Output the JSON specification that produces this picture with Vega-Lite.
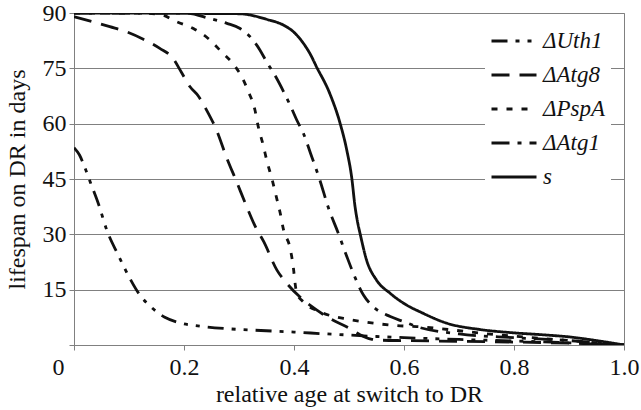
{
  "$schema": "https://vega.github.io/schema/vega-lite/v6.json",
  "width": 550,
  "height": 332,
  "autosize": {"type": "none"},
  "padding": {"left": 74, "top": 13, "right": 17, "bottom": 65},
  "background": "white",
  "config": {
    "font": "Liberation Serif",
    "style": {"guide-label": {"font": "Liberation Serif"}, "guide-title": {"font": "Liberation Serif"}},
    "view": {"stroke": "#808080", "strokeWidth": 1}
  },
  "datasets": {
    "curves": [
      {"g": "ΔUth1", "x": 0, "y": 53.5}, {"g": "ΔUth1", "x": 0.01, "y": 51.5}, {"g": "ΔUth1", "x": 0.02, "y": 48}, {"g": "ΔUth1", "x": 0.03, "y": 44}, {"g": "ΔUth1", "x": 0.045, "y": 38}, {"g": "ΔUth1", "x": 0.06, "y": 31}, {"g": "ΔUth1", "x": 0.08, "y": 24.5}, {"g": "ΔUth1", "x": 0.1, "y": 18.5}, {"g": "ΔUth1", "x": 0.12, "y": 13.5}, {"g": "ΔUth1", "x": 0.14, "y": 10.3}, {"g": "ΔUth1", "x": 0.165, "y": 7.5}, {"g": "ΔUth1", "x": 0.19, "y": 6.1}, {"g": "ΔUth1", "x": 0.23, "y": 5.1}, {"g": "ΔUth1", "x": 0.28, "y": 4.4}, {"g": "ΔUth1", "x": 0.33, "y": 4}, {"g": "ΔUth1", "x": 0.4, "y": 3.5}, {"g": "ΔUth1", "x": 0.46, "y": 3}, {"g": "ΔUth1", "x": 0.5, "y": 2.7}, {"g": "ΔUth1", "x": 0.55, "y": 2.3}, {"g": "ΔUth1", "x": 0.6, "y": 2}, {"g": "ΔUth1", "x": 0.7, "y": 1.5}, {"g": "ΔUth1", "x": 0.8, "y": 1.1}, {"g": "ΔUth1", "x": 0.9, "y": 0.6}, {"g": "ΔUth1", "x": 1.0, "y": 0},

      {"g": "ΔAtg8", "x": 0, "y": 89}, {"g": "ΔAtg8", "x": 0.035, "y": 87.6}, {"g": "ΔAtg8", "x": 0.065, "y": 86.3}, {"g": "ΔAtg8", "x": 0.096, "y": 84.9}, {"g": "ΔAtg8", "x": 0.126, "y": 82.9}, {"g": "ΔAtg8", "x": 0.156, "y": 80.4}, {"g": "ΔAtg8", "x": 0.18, "y": 77.7}, {"g": "ΔAtg8", "x": 0.195, "y": 74}, {"g": "ΔAtg8", "x": 0.211, "y": 70}, {"g": "ΔAtg8", "x": 0.226, "y": 67.5}, {"g": "ΔAtg8", "x": 0.241, "y": 63.7}, {"g": "ΔAtg8", "x": 0.259, "y": 58.3}, {"g": "ΔAtg8", "x": 0.278, "y": 50.6}, {"g": "ΔAtg8", "x": 0.295, "y": 44.5}, {"g": "ΔAtg8", "x": 0.314, "y": 37.5}, {"g": "ΔAtg8", "x": 0.33, "y": 32}, {"g": "ΔAtg8", "x": 0.345, "y": 28}, {"g": "ΔAtg8", "x": 0.369, "y": 20.3}, {"g": "ΔAtg8", "x": 0.387, "y": 16.7}, {"g": "ΔAtg8", "x": 0.417, "y": 12.2}, {"g": "ΔAtg8", "x": 0.441, "y": 9.5}, {"g": "ΔAtg8", "x": 0.465, "y": 7.2}, {"g": "ΔAtg8", "x": 0.5, "y": 4.6}, {"g": "ΔAtg8", "x": 0.52, "y": 2.8}, {"g": "ΔAtg8", "x": 0.54, "y": 1.6}, {"g": "ΔAtg8", "x": 0.56, "y": 1.3}, {"g": "ΔAtg8", "x": 0.6, "y": 1.2}, {"g": "ΔAtg8", "x": 0.7, "y": 1.0}, {"g": "ΔAtg8", "x": 0.8, "y": 0.8}, {"g": "ΔAtg8", "x": 0.9, "y": 0.5}, {"g": "ΔAtg8", "x": 1.0, "y": 0},

      {"g": "ΔPspA", "x": 0, "y": 90}, {"g": "ΔPspA", "x": 0.12, "y": 90}, {"g": "ΔPspA", "x": 0.159, "y": 89.5}, {"g": "ΔPspA", "x": 0.187, "y": 87.6}, {"g": "ΔPspA", "x": 0.217, "y": 85.8}, {"g": "ΔPspA", "x": 0.244, "y": 83.1}, {"g": "ΔPspA", "x": 0.268, "y": 79.5}, {"g": "ΔPspA", "x": 0.291, "y": 75.9}, {"g": "ΔPspA", "x": 0.305, "y": 72.7}, {"g": "ΔPspA", "x": 0.317, "y": 68.7}, {"g": "ΔPspA", "x": 0.329, "y": 63.7}, {"g": "ΔPspA", "x": 0.335, "y": 59.2}, {"g": "ΔPspA", "x": 0.344, "y": 54.2}, {"g": "ΔPspA", "x": 0.351, "y": 49.7}, {"g": "ΔPspA", "x": 0.36, "y": 45}, {"g": "ΔPspA", "x": 0.367, "y": 40.7}, {"g": "ΔPspA", "x": 0.375, "y": 35.7}, {"g": "ΔPspA", "x": 0.381, "y": 31.2}, {"g": "ΔPspA", "x": 0.393, "y": 26.2}, {"g": "ΔPspA", "x": 0.399, "y": 20.8}, {"g": "ΔPspA", "x": 0.402, "y": 16.7}, {"g": "ΔPspA", "x": 0.405, "y": 14}, {"g": "ΔPspA", "x": 0.417, "y": 11.7}, {"g": "ΔPspA", "x": 0.447, "y": 9}, {"g": "ΔPspA", "x": 0.49, "y": 7.2}, {"g": "ΔPspA", "x": 0.526, "y": 6.3}, {"g": "ΔPspA", "x": 0.556, "y": 5.7}, {"g": "ΔPspA", "x": 0.593, "y": 5.2}, {"g": "ΔPspA", "x": 0.623, "y": 5}, {"g": "ΔPspA", "x": 0.68, "y": 4.2}, {"g": "ΔPspA", "x": 0.74, "y": 3.2}, {"g": "ΔPspA", "x": 0.8, "y": 2.4}, {"g": "ΔPspA", "x": 0.9, "y": 1.2}, {"g": "ΔPspA", "x": 1.0, "y": 0},

      {"g": "ΔAtg1", "x": 0, "y": 90}, {"g": "ΔAtg1", "x": 0.2, "y": 90}, {"g": "ΔAtg1", "x": 0.247, "y": 88.5}, {"g": "ΔAtg1", "x": 0.278, "y": 87.2}, {"g": "ΔAtg1", "x": 0.302, "y": 85.8}, {"g": "ΔAtg1", "x": 0.32, "y": 83.6}, {"g": "ΔAtg1", "x": 0.338, "y": 80}, {"g": "ΔAtg1", "x": 0.35, "y": 76.8}, {"g": "ΔAtg1", "x": 0.365, "y": 73.2}, {"g": "ΔAtg1", "x": 0.381, "y": 68.7}, {"g": "ΔAtg1", "x": 0.393, "y": 65}, {"g": "ΔAtg1", "x": 0.405, "y": 61}, {"g": "ΔAtg1", "x": 0.417, "y": 57.4}, {"g": "ΔAtg1", "x": 0.43, "y": 52}, {"g": "ΔAtg1", "x": 0.447, "y": 44.7}, {"g": "ΔAtg1", "x": 0.463, "y": 37}, {"g": "ΔAtg1", "x": 0.48, "y": 30.5}, {"g": "ΔAtg1", "x": 0.496, "y": 24}, {"g": "ΔAtg1", "x": 0.508, "y": 19.4}, {"g": "ΔAtg1", "x": 0.526, "y": 13.6}, {"g": "ΔAtg1", "x": 0.544, "y": 10.4}, {"g": "ΔAtg1", "x": 0.575, "y": 7.7}, {"g": "ΔAtg1", "x": 0.6, "y": 6.3}, {"g": "ΔAtg1", "x": 0.623, "y": 5}, {"g": "ΔAtg1", "x": 0.7, "y": 3}, {"g": "ΔAtg1", "x": 0.8, "y": 2}, {"g": "ΔAtg1", "x": 0.9, "y": 1.2}, {"g": "ΔAtg1", "x": 1.0, "y": 0},

      {"g": "s", "x": 0, "y": 90}, {"g": "s", "x": 0.3, "y": 89.8}, {"g": "s", "x": 0.35, "y": 88.3}, {"g": "s", "x": 0.381, "y": 86.7}, {"g": "s", "x": 0.399, "y": 84.9}, {"g": "s", "x": 0.417, "y": 81.8}, {"g": "s", "x": 0.429, "y": 79}, {"g": "s", "x": 0.441, "y": 75.4}, {"g": "s", "x": 0.465, "y": 68.2}, {"g": "s", "x": 0.484, "y": 60}, {"g": "s", "x": 0.496, "y": 52.8}, {"g": "s", "x": 0.505, "y": 45.3}, {"g": "s", "x": 0.511, "y": 37.5}, {"g": "s", "x": 0.516, "y": 33}, {"g": "s", "x": 0.52, "y": 30.3}, {"g": "s", "x": 0.532, "y": 23}, {"g": "s", "x": 0.55, "y": 17.6}, {"g": "s", "x": 0.575, "y": 14}, {"g": "s", "x": 0.605, "y": 10.8}, {"g": "s", "x": 0.629, "y": 9}, {"g": "s", "x": 0.678, "y": 5.9}, {"g": "s", "x": 0.738, "y": 4.2}, {"g": "s", "x": 0.799, "y": 3.3}, {"g": "s", "x": 0.859, "y": 2.7}, {"g": "s", "x": 0.9, "y": 2.2}, {"g": "s", "x": 0.95, "y": 1.2}, {"g": "s", "x": 1.0, "y": 0}
    ]
  },
  "data": {"name": "curves"},
  "mark": {"type": "line", "color": "#111111", "strokeWidth": 2.8, "interpolate": "monotone", "clip": true},
  "encoding": {
    "x": {
      "field": "x", "type": "quantitative",
      "scale": {"domain": [0, 1], "nice": false, "zero": false},
      "axis": {
        "values": [0, 0.2, 0.4, 0.6, 0.8, 1.0],
        "labelExpr": "datum.value === 0 ? '0' : format(datum.value, '.1f')",
        "title": "relative age at switch to DR",
        "grid": false,
        "domainColor": "#808080", "tickColor": "#808080", "tickSize": 5,
        "labelFont": "Liberation Serif", "titleFont": "Liberation Serif",
        "labelFontSize": 24, "titleFontSize": 24, "labelColor": "#111111", "titleColor": "#111111",
        "titleFontWeight": "normal", "labelPadding": 5, "titlePadding": 3,
        "labelAlign": {"condition": {"test": "datum.value === 0", "value": "right"}, "value": "center"},
        "labelOffset": {"condition": {"test": "datum.value === 0", "value": -10}, "value": 0}
      }
    },
    "y": {
      "field": "y", "type": "quantitative",
      "scale": {"domain": [0, 90], "nice": false},
      "axis": {
        "values": [0, 15, 30, 45, 60, 75, 90],
        "labelExpr": "datum.value === 0 ? '' : datum.label",
        "title": "lifespan on DR in days",
        "grid": true, "gridColor": "#808080", "gridWidth": 1, "gridOpacity": 1,
        "domainColor": "#808080", "tickColor": "#808080", "tickSize": 5,
        "labelFont": "Liberation Serif", "titleFont": "Liberation Serif",
        "labelFontSize": 24, "titleFontSize": 24, "labelColor": "#111111", "titleColor": "#111111",
        "titleFontWeight": "normal", "labelPadding": 3, "titlePadding": 13
      }
    },
    "strokeDash": {
      "field": "g", "type": "nominal",
      "scale": {
        "domain": ["ΔUth1", "ΔAtg8", "ΔPspA", "ΔAtg1", "s"],
        "range": [[16, 8, 4, 8, 4, 8], [18, 10], [6, 9], [18, 8, 4, 8], [1, 0]]
      },
      "legend": {
        "title": null,
        "orient": "none", "legendX": 411, "legendY": 8,
        "fillColor": "white", "padding": 5,
        "labelFont": "Liberation Serif",
        "labelFontSize": 23, "labelFontStyle": "italic", "labelColor": "#111111",
        "symbolType": "stroke", "symbolSize": 2025, "symbolStrokeWidth": 2.8,
        "symbolStrokeColor": "#111111",
        "clipHeight": 30, "rowPadding": 4, "labelOffset": 5, "labelLimit": 200
      }
    }
  }
}
